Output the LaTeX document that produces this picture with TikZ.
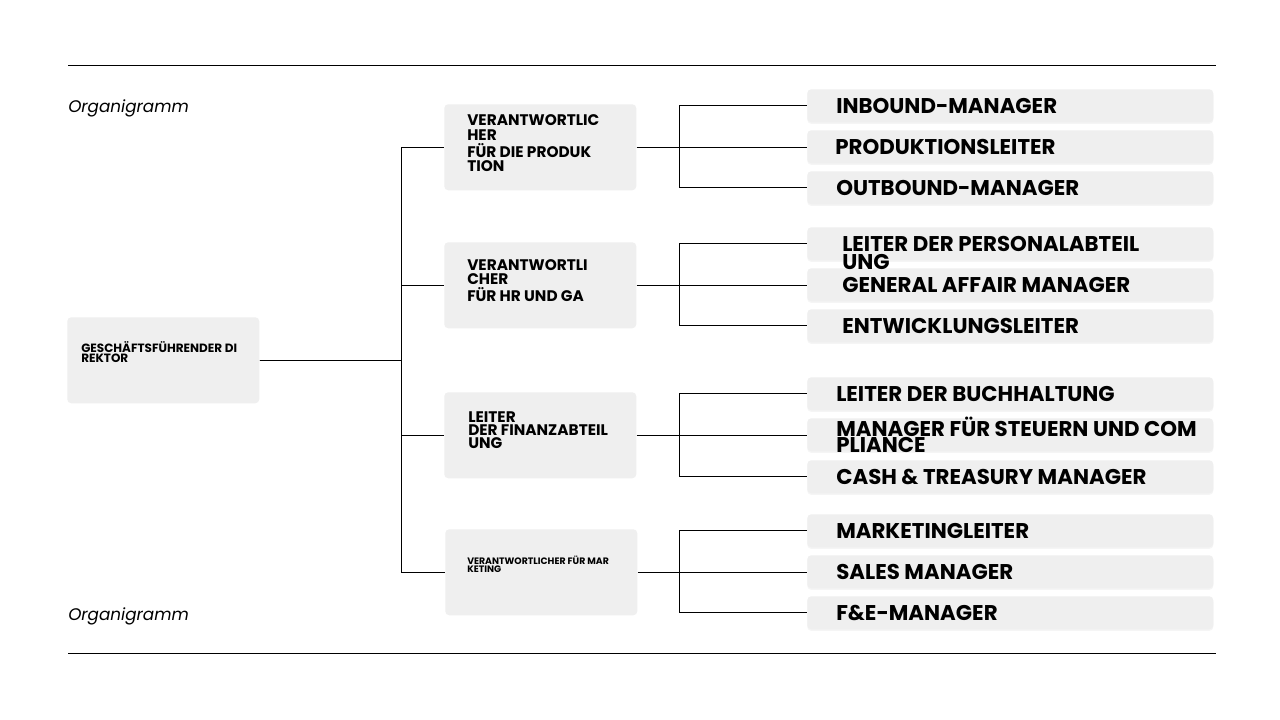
\documentclass[tikz,border=0pt]{standalone}
\usepackage{fontspec}
\setmainfont{Poppins}
\usetikzlibrary{shadows}
\definecolor{boxgray}{RGB}{239,239,239}

\begin{document}
\begin{tikzpicture}[x=0.75pt,y=-0.75pt,
  box/.style={fill=boxgray,rounded corners=3pt,inner sep=0pt,anchor=north west,
    minimum width=144pt,minimum height=64.5pt},
  rolebox/.style={fill=boxgray,rounded corners=3pt,inner sep=0pt,anchor=north west,
    minimum width=304.5pt,minimum height=24.75pt,
    drop shadow={shadow xshift=0pt,shadow yshift=-1.2pt,opacity=0.08}},
  boxtext/.style={anchor=west,inner sep=0pt,align=left,
    font=\bfseries\fontsize{11.5}{10.8}\selectfont},
  roletext/.style={anchor=base west,inner sep=0pt,align=left,
    font=\bfseries\fontsize{16}{13.5}\selectfont},
  titletext/.style={anchor=base west,inner sep=0pt,font=\itshape\fontsize{12.6}{15}\selectfont},
  link/.style={line width=0.75pt}]

  \fill[white] (0,0) rectangle (1280,720);
  \useasboundingbox (0,0) rectangle (1280,720);

% rules and titles
  \draw[link] (68,66) -- (1216,66);
  \draw[link] (68,653) -- (1216,653);
  \node[titletext] (title1) at (68,113) {Organigramm};
  \node[titletext] (title2) at (68,620) {Organigramm};

% director
  \node[box] (root) at (67,317) {};
  \node[boxtext,font=\bfseries\fontsize{9}{7.6}\selectfont]
    (troot) at ([shift={(10.5pt,6pt)}]root.west) {GESCHÄFTSFÜHRENDER DI\\REKTOR};

% middle level
  \node[box] (m1) at (444,104) {};
  \node[box] (m2) at (444,242) {};
  \node[box] (m3) at (444,392) {};
  \node[box] (m4) at (445,529) {};
  \node[boxtext] (tm1) at ([shift={(17.25pt,3pt)}]m1.west) {VERANTWORTLIC\\HER\\[2pt]FÜR DIE PRODUK\\TION};
  \node[boxtext] (tm2) at ([shift={(17.25pt,3.5pt)}]m2.west) {VERANTWORTLI\\CHER\\[2pt]FÜR HR UND GA};
  \node[boxtext,font=\bfseries\fontsize{11.5}{9.8}\selectfont]
    (tm3) at ([shift={(18pt,3.5pt)}]m3.west) {LEITER\\DER FINANZABTEIL\\UNG};
  \node[boxtext,font=\bfseries\fontsize{7}{6.2}\selectfont]
    (tm4) at ([shift={(16.5pt,6pt)}]m4.west) {VERANTWORTLICHER FÜR MAR\\KETING};

% role boxes
  \node[rolebox] (r11) at (807,89) {};
  \node[rolebox] (r12) at (807,130) {};
  \node[rolebox] (r13) at (807,171) {};
  \node[rolebox] (r21) at (807,227) {};
  \node[rolebox] (r22) at (807,268) {};
  \node[rolebox] (r23) at (807,309) {};
  \node[rolebox] (r31) at (807,377) {};
  \node[rolebox] (r32) at (807,418) {};
  \node[rolebox] (r33) at (807,460) {};
  \node[rolebox] (r41) at (807,514) {};
  \node[rolebox] (r42) at (807,555) {};
  \node[rolebox] (r43) at (807,596) {};

  \node[roletext] (t11) at ([shift={(21.75pt,-5.6pt)}]r11.west) {INBOUND-MANAGER};
  \node[roletext] (t12) at ([shift={(21pt,-5.6pt)}]r12.west) {PRODUKTIONSLEITER};
  \node[roletext] (t13) at ([shift={(21.75pt,-5.6pt)}]r13.west) {OUTBOUND-MANAGER};
  \node[roletext] (t21) at ([shift={(26.25pt,-19.1pt)}]r21.west) {LEITER DER PERSONALABTEIL\\UNG};
  \node[roletext] (t22) at ([shift={(26.25pt,-5.6pt)}]r22.west) {GENERAL AFFAIR MANAGER};
  \node[roletext] (t23) at ([shift={(26.25pt,-5.6pt)}]r23.west) {ENTWICKLUNGSLEITER};
  \node[roletext] (t31) at ([shift={(21.75pt,-5.6pt)}]r31.west) {LEITER DER BUCHHALTUNG};
  \node[roletext,font=\bfseries\fontsize{16}{12}\selectfont]
    (t32) at ([shift={(21.75pt,-13.1pt)}]r32.west) {MANAGER FÜR STEUERN UND COM\\PLIANCE};
  \node[roletext] (t33) at ([shift={(21.75pt,-5.6pt)}]r33.west) {CASH \& TREASURY MANAGER};
  \node[roletext] (t41) at ([shift={(21.75pt,-5.6pt)}]r41.west) {MARKETINGLEITER};
  \node[roletext] (t42) at ([shift={(21.75pt,-5.6pt)}]r42.west) {SALES MANAGER};
  \node[roletext] (t43) at ([shift={(21.75pt,-5.6pt)}]r43.west) {F\&E-MANAGER};

% director to middle level
  \coordinate (bus) at (401,0);
  \foreach \m in {m1,m2,m3,m4}
    \draw[link] (root.east) -| (bus |- \m.west) -- (\m.west);

% middle level to roles
  \coordinate (spine) at (679,0);
  \foreach \m in {1,2,3,4} {
    \draw[link] (r\m1.west) -| (spine |- m\m.east) |- (r\m3.west);
    \draw[link] (m\m.east) -- (m\m.east -| r\m2.west);
  }

\end{tikzpicture}
\end{document}
